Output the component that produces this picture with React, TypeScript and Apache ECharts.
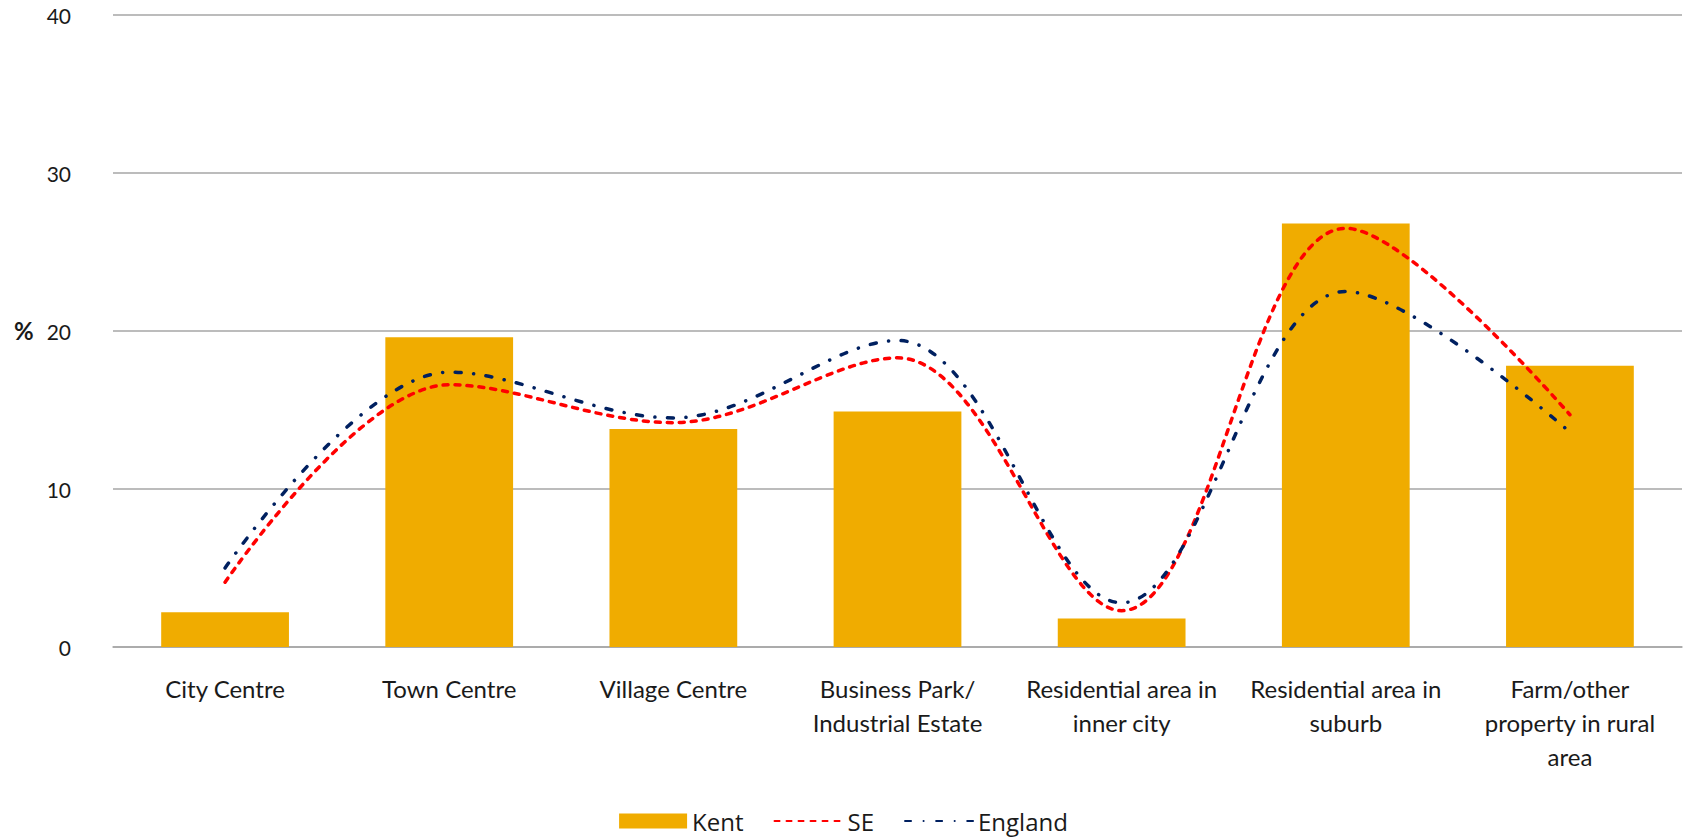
import React, { useEffect, useRef } from "react";
import * as echarts from "echarts";

const categories = [
  "City Centre",
  "Town Centre",
  "Village Centre",
  "Business Park/\nIndustrial Estate",
  "Residential area in\ninner city",
  "Residential area in\nsuburb",
  "Farm/other\nproperty in rural\narea",
];
const kentValues = [2.2, 19.6, 13.8, 14.9, 1.8, 26.8, 17.8];
const seValues = [4.1, 16.6, 14.2, 18.3, 2.3, 26.5, 14.7];
const englandValues = [5.0, 17.4, 14.5, 19.4, 2.8, 22.5, 13.6];
const yTicks = { min: 0, max: 40, interval: 10 };

export default function App() {
  const ref = useRef<HTMLDivElement>(null);
  useEffect(() => {
    if (!ref.current) return;
    const chart = echarts.init(ref.current, undefined, { renderer: "svg" });
    chart.setOption({
      animation: false,
      backgroundColor: "#ffffff",
      grid: { left: 113, right: 5, top: 15, bottom: 192, containLabel: false },
      legend: {
        data: [
          { name: "Kent", icon: "rect" },
          { name: "SE", itemStyle: { opacity: 0 } },
          { name: "England", itemStyle: { opacity: 0 } },
        ],
        left: "center",
        top: 804,
        itemWidth: 68,
        itemHeight: 15,
        itemGap: 30,
        textStyle: { fontFamily: "Open Sans", fontSize: 24, color: "#1a1a1a" },
      },
      xAxis: {
        type: "category",
        data: categories,
        axisLine: { show: true, lineStyle: { color: "#a6a6a6", width: 1.5 } },
        axisTick: { show: false },
        axisLabel: {
          interval: 0,
          margin: 24,
          fontFamily: "Lato",
          fontSize: 24,
          lineHeight: 34,
          color: "#1a1a1a",
        },
      },
      yAxis: {
        type: "value",
        min: yTicks.min,
        max: yTicks.max,
        interval: yTicks.interval,
        axisLine: { show: false },
        axisTick: { show: false },
        splitLine: { lineStyle: { color: "#a6a6a6", width: 1.5 } },
        axisLabel: {
          margin: 42,
          fontFamily: "Lato",
          fontSize: 21,
          color: "#1a1a1a",
        },
      },
      graphic: [
        {
          type: "text",
          left: 14,
          top: 318,
          style: {
            text: "%",
            fontFamily: "Lato",
            fontWeight: "bold",
            fontSize: 24,
            fill: "#1a1a1a",
          },
        },
      ],
      series: [
        {
          name: "Kent",
          type: "bar",
          data: kentValues,
          barCategoryGap: "43%",
          itemStyle: { color: "#F0AC00" },
        },
        {
          name: "SE",
          type: "line",
          data: seValues,
          smooth: 0.35,
          symbol: "none",
          lineStyle: { color: "#FF0000", width: 3.5, type: [5, 7], cap: "round" },
          itemStyle: { color: "#FF0000" },
        },
        {
          name: "England",
          type: "line",
          data: englandValues,
          smooth: 0.35,
          symbol: "none",
          lineStyle: {
            color: "#002060",
            width: 3.5,
            type: [6, 12.5, 0.1, 12.5],
            cap: "round",
          },
          itemStyle: { color: "#002060" },
        },
      ],
    });
    return () => chart.dispose();
  }, []);
  return (
    <div
      ref={ref}
      style={{ position: "fixed", left: 0, top: 0, width: 1687, height: 839 }}
    />
  );
}
